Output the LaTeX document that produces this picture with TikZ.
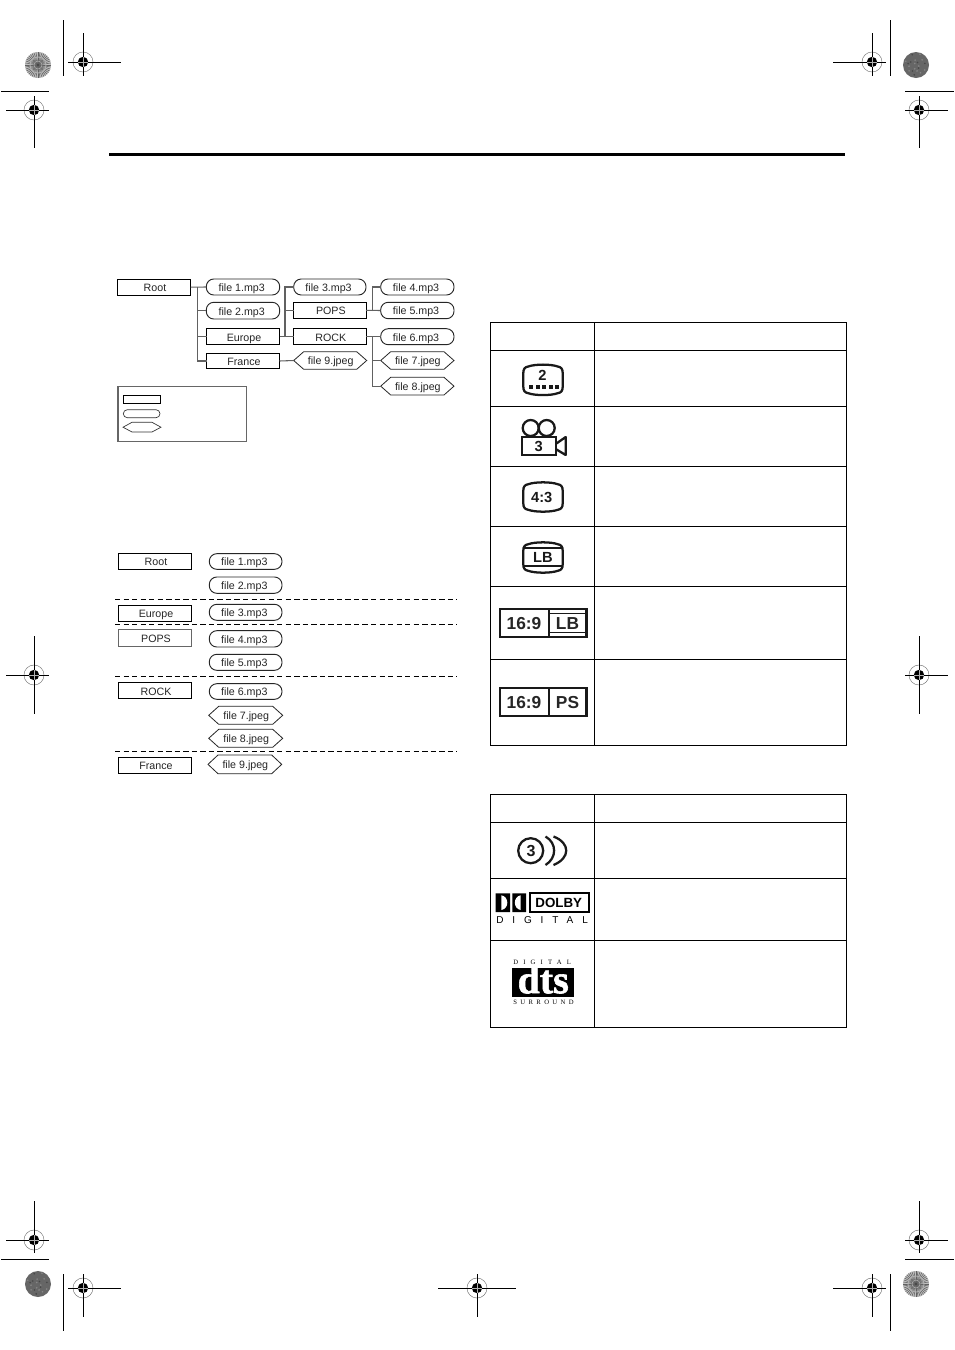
\documentclass[tikz,border=0pt]{standalone}
\usepackage{fontspec}
\setmainfont{Liberation Sans}
\newfontfamily\dtsfont{Liberation Serif}
\newfontfamily\dtsheavy[BoldFeatures={FakeBold=1.5}]{Liberation Serif}
\tikzset{
  x=0.75pt,y=-0.75pt,
  lbl/.style={font=\fontsize{8}{9}\selectfont,inner sep=0pt,text=black!85,text height=5.8pt,text depth=0pt},
  conn/.style={draw=black!62,line width=0.8pt},
  dashsep/.style={draw=black,line width=0.6pt,dash pattern=on 4pt off 2.4pt},
  frame/.style={draw=black,line width=0.7pt},
  iconline/.style={draw=black!90,line width=1.7pt},
  iconbf/.style={font=\bfseries\fontsize{11}{12}\selectfont,inner sep=0pt,text=black!90},
  iconbig/.style={font=\bfseries\fontsize{13}{14}\selectfont,inner sep=0pt,text=black!85},
}
\newcommand{\rbox}[7][black]{%
  \draw[draw=#1,line width=0.75pt,fill=white] (#3,#4) rectangle (#5,#6);
  \node[lbl] (#2) at ({(#3+#5)/2+1},{(#4+#6)/2+0.6}) {#7};
  \coordinate (#2W) at (#3,{(#4+#6)/2});
  \coordinate (#2E) at (#5,{(#4+#6)/2});}
\newcommand{\pillbox}[6]{%
  \draw[line width=0.7pt,draw=black!85,fill=white,rounded corners=7.5*0.75pt] (#2,#3) rectangle (#4,#5);
  \node[lbl] (#1) at ({(#2+#4)/2-1.3},{(#3+#5)/2+0.6}) {#6};
  \coordinate (#1W) at (#2,{(#3+#5)/2});}
\newcommand{\hexbox}[6]{%
  \draw[line width=0.6pt,draw=black!85,fill=white] (#2,{(#3+#5)/2}) -- ({#2+10},#3) -- ({#4-10},#3) -- (#4,{(#3+#5)/2}) -- ({#4-10},#5) -- ({#2+10},#5) -- cycle;
  \node[lbl] (#1) at ({(#2+#4)/2+0.5},{(#3+#5)/2+0.6}) {#6};
  \coordinate (#1W) at (#2,{(#3+#5)/2});}
\newcommand{\regmark}[6]{%
  \draw[black!55,line width=0.35pt] (#1,#2) circle (10);
  \draw[black,line width=0.75pt] (#3,#2) -- (#4,#2) (#1,#5) -- (#1,#6);
  \fill[black] (#1,#2) circle (5.2);
  \draw[white!70!black,line width=0.35pt] ({#1-5},#2) -- ({#1+5},#2) ({#1},{#2-5}) -- ({#1},{#2+5});}
\newcommand{\burst}[2]{%
  \fill[black!25] (#1,#2) circle (13);
  \foreach \a in {0,9,...,351}{\draw[black!62,line width=0.4pt] (#1,#2) -- ++(\a:13);}
  \draw[white!70!black,line width=0.6pt] (#1,#2) circle (8);
  \draw[white!70!black,line width=0.4pt] (#1,#2) circle (4);
  \fill[black!75] (#1,#2) circle (1.2);}
\newcommand{\grain}[2]{%
  \fill[black!60] (#1,#2) circle (13);
  \foreach \r/\a in {3/20,6/80,9/140,11/200,5/260,8/320,10/30,4/110,7/170,11.5/290,2/230,9/60}{\fill[black!47] (#1,#2) ++(\a:\r) circle (0.9);}
  \foreach \r/\a in {4/50,7/120,10/100,6/210,11/250,3/300,9/350,8/190}{\fill[black!72] (#1,#2) ++(\a:\r) circle (0.9);}}
\newcommand{\tvshape}[4]{%
  \draw[iconline,fill=white] ({#1+5},{#2+2.5}) .. controls ({(#1+#3)/2-8},#2) and ({(#1+#3)/2+8},#2) .. ({#3-5},{#2+2.5})
    .. controls ({#3-1.5},{#2+3}) and (#3,{#2+5}) .. (#3,{#2+9})
    -- (#3,{#4-9}) .. controls (#3,{#4-5}) and ({#3-1.5},{#4-3}) .. ({#3-5},{#4-2.5})
    .. controls ({(#1+#3)/2+8},#4) and ({(#1+#3)/2-8},#4) .. ({#1+5},{#4-2.5})
    .. controls ({#1+1.5},{#4-3}) and (#1,{#4-5}) .. (#1,{#4-9})
    -- (#1,{#2+9}) .. controls (#1,{#2+5}) and ({#1+1.5},{#2+3}) .. ({#1+5},{#2+2.5}) -- cycle;}
\begin{document}
\begin{tikzpicture}
\useasboundingbox (0,0) rectangle (954,1350);
\fill[white] (0,0) rectangle (954,1350);

% crop marks
\regmark{83}{62}{68}{121}{33}{76}
\regmark{872}{62}{833}{886}{33}{76}
\regmark{34}{110}{6}{49}{96}{148}
\regmark{919}{110}{905}{948}{96}{148}
\regmark{34}{675}{6}{49}{636}{714}
\regmark{919}{675}{905}{948}{636}{714}
\regmark{34}{1240}{6}{49}{1201}{1253}
\regmark{919}{1240}{905}{948}{1201}{1253}
\regmark{83}{1288}{68}{121}{1274}{1317}
\regmark{477}{1288}{438}{516}{1274}{1317}
\regmark{872}{1288}{833}{886}{1274}{1317}
\draw[black,line width=0.75pt] (63,20) -- (63,76) (890,20) -- (890,76)
  (1,91) -- (49,91) (905,91) -- (954,91)
  (1,1259) -- (49,1259) (905,1259) -- (954,1259)
  (63,1274) -- (63,1331) (890,1274) -- (890,1331);
\burst{38}{65}
\grain{916}{65}
\grain{38}{1284}
\burst{916}{1284}

% top rule
\fill[black] (109,152.5) rectangle (845,155.7);

% tree connectors
\coordinate (busA) at (197.3,287);
\coordinate (busB) at (285,287);
\coordinate (busC) at (372.7,287);
\coordinate (busD) at (372.7,337);

% tree nodes
\rbox{tRoot}{117.3}{279.3}{190.7}{295}{Root}
\pillbox{tfa}{206.3}{279}{279.7}{295}{file 1.mp3}
\pillbox{tfb}{206.3}{302.3}{279.7}{319}{file 2.mp3}
\rbox{tEu}{206.5}{328.7}{279.5}{344.7}{Europe}
\rbox{tFr}{206.5}{353.3}{279.5}{368.7}{France}
\pillbox{tfc}{293.7}{279}{366}{295}{file 3.mp3}
\rbox{tPo}{293.7}{302.3}{366}{318.3}{POPS}
\rbox{tRo}{293.7}{328.7}{366}{344.7}{ROCK}
\hexbox{tfi}{293.7}{351.7}{366.7}{369.3}{file 9.jpeg}
\pillbox{tfd}{380.7}{279}{454}{295}{file 4.mp3}
\pillbox{tfe}{380.7}{302.3}{454}{318.7}{file 5.mp3}
\pillbox{tff}{380.7}{328.7}{454}{344.7}{file 6.mp3}
\hexbox{tfg}{380.7}{351.7}{454}{369.3}{file 7.jpeg}
\hexbox{tfh}{380.7}{377.3}{454}{395}{file 8.jpeg}

\draw[conn] (tRootE) -- (tfaW);
\draw[conn] (busA) |- (tfbW);
\draw[conn] (busA) |- (tEuW);
\draw[conn] (busA) |- (tFrW);
\draw[conn] (tEuE) -- (tRoW);
\draw[conn] (tPoE) -- (tfeW);
\draw[conn] (tRoE) -- (tffW);
\draw[conn] (tFrE) -- (tfiW);
\coordinate (busBm) at (285,337);
\draw[conn] (busBm) |- (tfcW);
\draw[conn] (busB |- tPoW) -- (tPoW);
\coordinate (busCm) at (372.7,311);
\draw[conn] (busCm) |- (tfdW);
\draw[conn] (busD) |- (tfgW);
\draw[conn] (busD) |- (tfhW);

% legend
\draw[draw=black!60,line width=0.8pt] (118,386.7) rectangle (246.3,441.3);
\draw[line width=0.75pt] (123.3,395.3) rectangle (160.7,403.3);
\draw[line width=0.5pt,draw=black!80,rounded corners=3pt] (123.3,409.7) rectangle (160,417.7);
\draw[line width=0.5pt,draw=black!80] (123,427.2) -- (132,422.3) -- (152,422.3) -- (161,427.2) -- (152,432) -- (132,432) -- cycle;

% list
\rbox{lRoot}{118.3}{553.7}{191.7}{569.3}{Root}
\pillbox{lfa}{209.3}{553.7}{282}{569.3}{file 1.mp3}
\pillbox{lfb}{209.3}{577}{282}{593.3}{file 2.mp3}
\coordinate (dA1) at (115,599); \coordinate (dA2) at (457,599);
\draw[dashsep] (dA1) -- (dA2);
\rbox{lEu}{118.3}{605.3}{191.7}{621.7}{Europe}
\pillbox{lfc}{209.3}{604.3}{282}{620.3}{file 3.mp3}
\coordinate (dB1) at (115,624.3); \coordinate (dB2) at (457,624.3);
\draw[dashsep] (dB1) -- (dB2);
\rbox[black!60]{lPo}{118.3}{629.7}{191.7}{646.3}{POPS}
\pillbox{lfd}{209.3}{630.7}{282}{647}{file 4.mp3}
\pillbox{lfe}{209.3}{654.3}{282}{670.3}{file 5.mp3}
\coordinate (dC1) at (115,676.3); \coordinate (dC2) at (457,676.3);
\draw[dashsep] (dC1) -- (dC2);
\rbox{lRo}{118.3}{682.7}{191.7}{698.7}{ROCK}
\pillbox{lff}{209.3}{683.7}{282}{699.3}{file 6.mp3}
\hexbox{lfg}{208.7}{706.3}{282.7}{724.3}{file 7.jpeg}
\hexbox{lfh}{208.7}{729.3}{282.7}{747.3}{file 8.jpeg}
\coordinate (dD1) at (115,751.3); \coordinate (dD2) at (457,751.3);
\draw[dashsep] (dD1) -- (dD2);
\rbox{lFr}{118.3}{757.3}{191.7}{773.3}{France}
\hexbox{lfi}{208}{755}{281.7}{773.7}{file 9.jpeg}

% table 1
\draw[frame] (490.5,322.5) rectangle (846.5,745.5);
\draw[frame] (594.5,322.5) -- (594.5,745.5);
\foreach \y in {350.5,406.5,466.5,526.5,586.5,659.5}{\draw[frame] (490.5,\y) -- (846.5,\y);}
% table 2
\draw[frame] (490.5,794) rectangle (846.5,1027.5);
\draw[frame] (594.5,794) -- (594.5,1027.5);
\foreach \y in {822.5,878.5,940.5}{\draw[frame] (490.5,\y) -- (846.5,\y);}

% angle icon
\tvshape{523.3}{364}{562.7}{395.7}
\node[iconbf] (iTwo) at (542.5,375.5) {2};
\foreach \x in {529.3,535.7,542.1,548.5,554.9}{\fill[black!90] (\x,385) rectangle ({\x+4},389);}

% camera
\draw[iconline] (530.7,428) circle (8);
\draw[iconline] (546.7,428) circle (8);
\draw[iconline,fill=white] (521.7,437) rectangle (555.7,455);
\draw[iconline,line join=round] (555.7,444) -- (565.7,437) -- (565.7,455) -- (555.7,449);
\node[iconbf] (iThree) at (538.7,446.3) {3};

% 4:3
\tvshape{523.3}{481.7}{562.7}{512.3}
\node[iconbf] (iFour) at (541.7,497) {4:3};

% LB
\tvshape{523.3}{541.7}{562.7}{573.3}
\draw[iconline] (523.3,548) -- (562.7,548) (523.3,566) -- (562.7,566);
\node[iconbf] (iLB) at (543,557.3) {LB};

% 16:9 LB
\draw[iconline,line width=1.6pt] (499.7,609.3) rectangle (586.5,637);
\draw[iconline,line width=1.6pt] (548.7,609.3) -- (548.7,637);
\draw[iconline,line width=1pt] (548.7,613.4) -- (586.5,613.4) (548.7,632.8) -- (586.5,632.8);
\node[iconbig] (iS1) at (524,623.8) {16:9};
\node[iconbig] (iL2) at (567.5,623.8) {LB};

% 16:9 PS
\draw[iconline,line width=1.6pt] (499.7,688) rectangle (586.5,716);
\draw[iconline,line width=1.6pt] (548.7,688) -- (548.7,716);
\node[iconbig] (iS2) at (524,702.6) {16:9};
\node[iconbig] (iP) at (567.5,702.6) {PS};

% audio 3
\draw[iconline] (530.7,850.7) circle (12.5);
\node[iconbf,font=\bfseries\fontsize{12}{12}\selectfont] (iA) at (531,851) {3};
\draw[iconline] (545.5,836.5) .. controls (557,843) and (557,858) .. (545.5,865);
\draw[iconline] (553.5,836.5) .. controls (570.5,843) and (570.5,858) .. (553.5,865);

% dolby
\fill[black] (495.7,893.3) rectangle (510,912) (512.3,893.3) rectangle (526,912);
\fill[white] (501.3,895.3) .. controls (509.3,896.5) and (509.3,908.8) .. (501.3,910) -- cycle;
\fill[white] (520.7,895.3) .. controls (512.9,896.5) and (512.9,908.8) .. (520.7,910) -- cycle;
\draw[draw=black,line width=1.5pt] (529.5,893) rectangle (588.8,912);
\node[inner sep=0pt,font=\bfseries\fontsize{10}{12}\selectfont] (iD) at (558.8,902.7) {DOLBY};
\node[inner sep=0pt,anchor=west,font=\fontsize{7.5}{9}\selectfont\addfontfeature{LetterSpace=89}] (iDg) at (496,920) {DIGITAL};

% dts
\node[inner sep=0pt,anchor=west,font=\dtsfont\fontsize{5}{6}\selectfont\addfontfeature{LetterSpace=78},text=black] (iDg2) at (513,962) {DIGITAL};
\fill[black] (512.3,968.3) rectangle (574,996.7);
\node[inner sep=0pt,text=white,font=\dtsheavy\bfseries\fontsize{30}{30}\selectfont] (iDts) at (543.2,979.5) {dts};
\node[inner sep=0pt,anchor=west,font=\dtsfont\fontsize{5}{6}\selectfont\addfontfeature{LetterSpace=51},text=black] (iSur) at (513,1002.5) {SURROUND};
\end{tikzpicture}
\end{document}
